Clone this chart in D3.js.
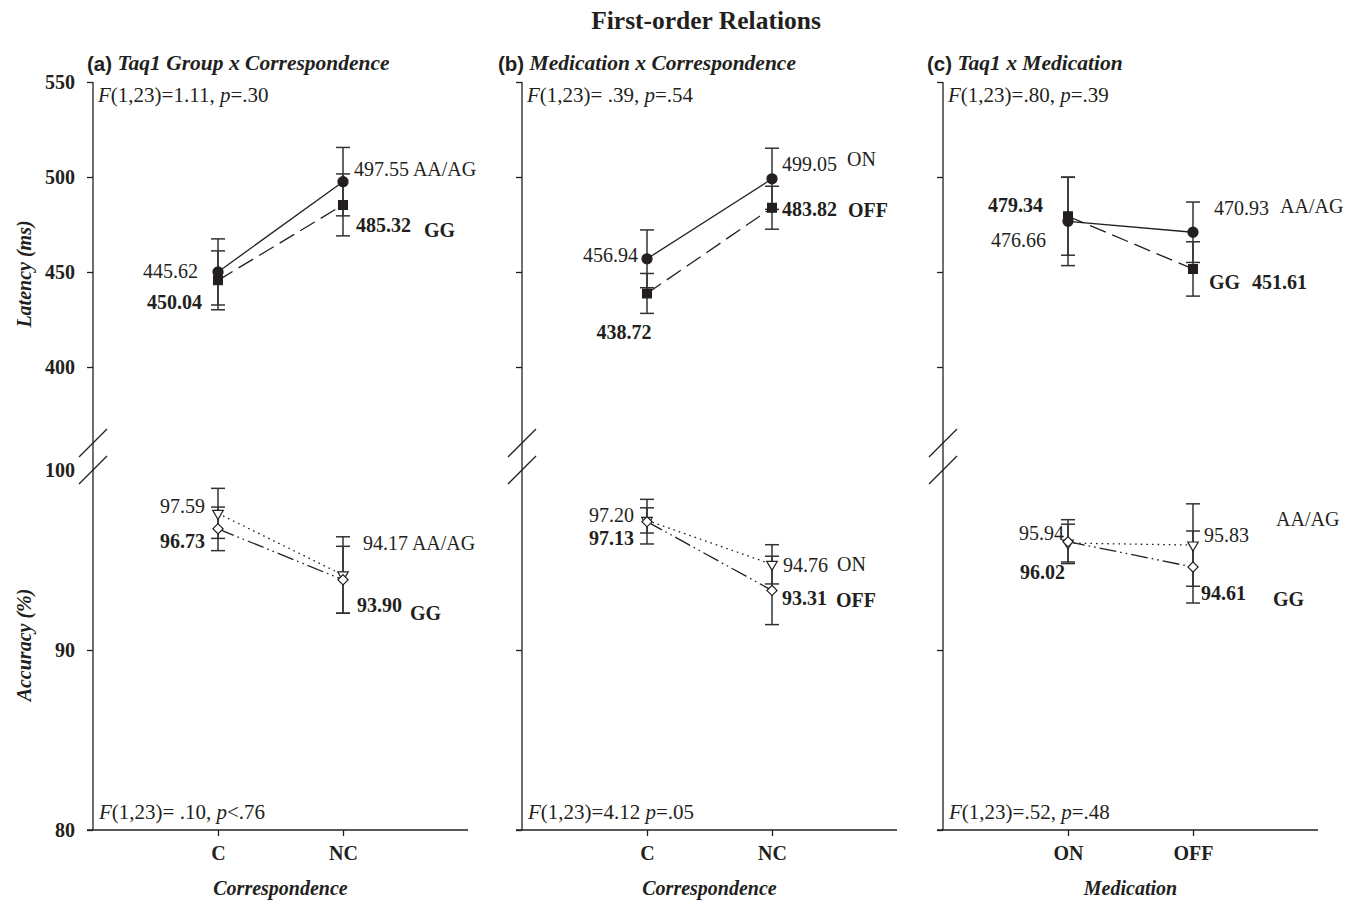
<!DOCTYPE html>
<html>
<head>
<meta charset="utf-8">
<title>First-order Relations</title>
<style>
  body { margin: 0; background: #fff; }
  text { font-family: "Liberation Serif", "Times New Roman", serif; fill: #231f20; }
</style>
</head>
<body>
<script src="https://cdn.jsdelivr.net/npm/d3@7/dist/d3.min.js"></script>
<script>

// ---- data ----
var panelLetters = ["(a)", "(b)", "(c)"];
var panelTitles = ["Taq1 Group x Correspondence", "Medication x Correspondence", "Taq1 x Medication"];
var xCategories = [["C", "NC"], ["C", "NC"], ["ON", "OFF"]];
var xTitles = ["Correspondence", "Correspondence", "Medication"];

// latency (ms): [series 0 = filled circle / solid, series 1 = filled square / dashed]
var latencyMeans = [
  [[450.04, 497.55], [445.62, 485.32]],
  [[456.94, 499.05], [438.72, 483.82]],
  [[476.66, 470.93], [479.34, 451.61]]
];
var latencyErr = [
  [[17.4, 18.0], [15.5, 16.3]],
  [[15.2, 16.1], [10.5, 11.3]],
  [[23.3, 15.9], [20.5, 14.3]]
];
// accuracy (%): [series 0 = open triangle / dotted, series 1 = open diamond / dash-dot-dot]
var accuracyMeans = [
  [[97.59, 94.17], [96.73, 93.90]],
  [[97.20, 94.76], [97.13, 93.31]],
  [[95.94, 95.83], [96.02, 94.61]]
];
var accuracyErr = [
  [[1.39, 2.12], [1.21, 1.86]],
  [[0.70, 1.09], [1.24, 1.90]],
  [[1.05, 2.29], [1.22, 2.00]]
];

var latencyTicks = [400, 450, 500, 550];
var accuracyTicks = [80, 90, 100];

var statsTop = ["F(1,23)=1.11, p=.30", "F(1,23)= .39, p=.54", "F(1,23)=.80, p=.39"];
var statsBottom = ["F(1,23)= .10, p<.76", "F(1,23)=4.12 p=.05", "F(1,23)=.52, p=.48"];

// value labels as printed in the figure: [text, bold]
var valueLabels = [
  [["445.62", 0], ["450.04", 1], ["497.55 AA/AG", 0], ["485.32", 1], ["GG", 1],
   ["97.59", 0], ["96.73", 1], ["94.17 AA/AG", 0], ["93.90", 1], ["GG", 1]],
  [["456.94", 0], ["438.72", 1], ["499.05", 0], ["ON", 0], ["483.82", 1], ["OFF", 1],
   ["97.20", 0], ["97.13", 1], ["94.76", 0], ["ON", 0], ["93.31", 1], ["OFF", 1]],
  [["479.34", 1], ["476.66", 0], ["470.93", 0], ["AA/AG", 0], ["GG", 1], ["451.61", 1],
   ["95.94", 0], ["96.02", 1], ["95.83", 0], ["AA/AG", 0], ["94.61", 1], ["GG", 1]]
];

// where each label hangs: [block ('lat'|'acc'), series, category, dx, dy, anchor]
var labelSpots = [
  [["lat",0,0,-20,-1,"end"], ["lat",1,0,-16,22,"end"], ["lat",0,1,11,-13,"start"],
   ["lat",1,1,13,20,"start"], ["lat",1,1,81,25,"start"],
   ["acc",0,0,-13,-7,"end"], ["acc",1,0,-13,12,"end"], ["acc",0,1,20,-32,"start"],
   ["acc",1,1,14,25,"start"], ["acc",1,1,67,33,"start"]],
  [["lat",0,0,-9,-4,"end"], ["lat",1,0,-23,39,"middle"], ["lat",0,1,10,-15,"start"],
   ["lat",0,1,75,-20,"start"], ["lat",1,1,10,1,"start"], ["lat",1,1,76,2,"start"],
   ["acc",0,0,-13,-5,"end"], ["acc",1,0,-13,16,"end"], ["acc",0,1,11,1,"start"],
   ["acc",0,1,65,0,"start"], ["acc",1,1,10,8,"start"], ["acc",1,1,64,10,"start"]],
  [["lat",1,0,-25,-11,"end"], ["lat",0,0,-22,19,"end"], ["lat",0,1,21,-24,"start"],
   ["lat",0,1,87,-26,"start"], ["lat",1,1,16,13,"start"], ["lat",1,1,59,13,"start"],
   ["acc",0,0,-4,-10,"end"], ["acc",1,0,-3,30,"end"], ["acc",0,1,11,-10,"start"],
   ["acc",0,1,83,-26,"start"], ["acc",1,1,8,26,"start"], ["acc",1,1,80,32,"start"]]
];

// ---- layout ----
var W = 1357, H = 900;
var axisX = [93, 522, 943];
var headingX = [87, 498, 927];
var panelW = 375;
var ink = "#231f20";

var svg = d3.select("body").append("svg")
    .attr("width", W)
    .attr("height", H)
    .style("background", "#fff");

var yLat = d3.scaleLinear().domain([400, 550]).range([367, 82]);
var yAcc = d3.scaleLinear().domain([80, 100]).range([830, 470]);

svg.append("text")
    .attr("x", 706).attr("y", 20)
    .attr("text-anchor", "middle")
    .attr("dominant-baseline", "central")
    .style("font-size", "25.5px").style("font-weight", "bold")
    .text("First-order Relations");

// y titles
[["Latency (ms)", 274], ["Accuracy (%)", 645]].forEach(function(t){
  svg.append("text")
      .attr("transform", "translate(24," + t[1] + ") rotate(-90)")
      .attr("text-anchor", "middle")
      .attr("dominant-baseline", "central")
      .style("font-size", "20px").style("font-weight", "bold").style("font-style", "italic")
      .text(t[0]);
});

function statText(g, str, x, y){
  var t = g.append("text").attr("x", x).attr("y", y)
      .attr("dominant-baseline", "central")
      .style("font-size", "21px");
  str.split(/(F|p)/).forEach(function(s){
    if (!s) return;
    t.append("tspan").style("font-style", (s == "F" || s == "p") ? "italic" : "normal").text(s);
  });
}

var sym = {
  circle: d3.symbol().type(d3.symbolCircle).size(80),
  square: d3.symbol().type(d3.symbolSquare).size(78),
  tri: d3.symbol().type(d3.symbolTriangle).size(48),
  diamond: d3.symbol().type(d3.symbolSquare).size(52)
};

var latStyle = [
  {dash: null, marker: "circle", fill: ink, rot: 0},
  {dash: "17,7", marker: "square", fill: ink, rot: 0}
];
var accStyle = [
  {dash: "1.6,4", marker: "tri", fill: "#fff", rot: 180},
  {dash: "17,4,1.6,4,1.6,4", marker: "diamond", fill: "#fff", rot: 45}
];

panelLetters.forEach(function(letter, p){
  var x0 = axisX[p];
  var g = svg.append("g");
  var x = d3.scalePoint().domain(xCategories[p]).range([x0, x0 + panelW]).padding(1);

  // heading
  var h = g.append("text").attr("x", headingX[p]).attr("y", 63)
      .attr("dominant-baseline", "central");
  h.append("tspan").text(letter)
      .style("font-family", "'Liberation Sans', Arial, sans-serif")
      .style("font-weight", "bold").style("font-size", "20.5px");
  h.append("tspan").text(" " + panelTitles[p])
      .style("font-weight", "bold").style("font-style", "italic").style("font-size", "21.5px");

  // y axis line and break
  g.append("line").attr("x1", x0).attr("x2", x0).attr("y1", yLat(550)).attr("y2", yAcc(80))
      .attr("stroke", ink).attr("stroke-width", 1.3);
  [457, 484].forEach(function(by){
    g.append("line").attr("x1", x0 - 14).attr("y1", by).attr("x2", x0 + 14).attr("y2", by - 28)
        .attr("stroke", ink).attr("stroke-width", 1.3);
  });

  var fmt = p == 0 ? d3.format("d") : function(){ return ""; };
  var latAxis = g.append("g").attr("transform", "translate(" + x0 + ",0)")
      .call(d3.axisLeft(yLat).tickValues(latencyTicks).tickSize(6).tickPadding(12).tickFormat(fmt));
  var accAxis = g.append("g").attr("transform", "translate(" + x0 + ",0)")
      .call(d3.axisLeft(yAcc).tickValues(accuracyTicks).tickSize(6).tickPadding(12).tickFormat(fmt));
  [latAxis, accAxis].forEach(function(a){
    a.select(".domain").remove();
    a.selectAll("line").attr("stroke", ink).attr("stroke-width", 1.3);
    a.selectAll("text").style("font-family", "'Liberation Serif', serif")
        .style("font-size", "20px").style("font-weight", "bold").attr("fill", ink);
  });
  accAxis.selectAll(".tick").filter(function(d){ return d == 100; }).select("line").remove();

  // x axis
  var xa = g.append("g").attr("transform", "translate(0," + yAcc(80) + ")")
      .call(d3.axisBottom(x).tickSize(6).tickPadding(10));
  xa.select(".domain").remove();
  xa.append("line").attr("x1", x0 - 6).attr("x2", x0 + panelW).attr("stroke", ink).attr("stroke-width", 1.3);
  xa.selectAll("line").attr("stroke", ink).attr("stroke-width", 1.3);
  xa.selectAll(".tick text").style("font-family", "'Liberation Serif', serif")
      .style("font-size", "20px").style("font-weight", "bold").attr("fill", ink);

  g.append("text")
      .attr("x", (x(xCategories[p][0]) + x(xCategories[p][1])) / 2).attr("y", 888)
      .attr("text-anchor", "middle").attr("dominant-baseline", "central")
      .style("font-size", "20px").style("font-weight", "bold").style("font-style", "italic")
      .text(xTitles[p]);

  statText(g, statsTop[p], x0 + 5, 95);
  statText(g, statsBottom[p], x0 + 6, 812);

  // series
  var blocks = [
    {key: "lat", y: yLat, means: latencyMeans[p], err: latencyErr[p], style: latStyle},
    {key: "acc", y: yAcc, means: accuracyMeans[p], err: accuracyErr[p], style: accStyle}
  ];
  blocks.forEach(function(b){
    b.means.forEach(function(vals, s){
      var pts = vals.map(function(v, i){
        return {x: x(xCategories[p][i]), v: v, e: b.err[s][i]};
      });
      // error bars
      pts.forEach(function(d){
        var eg = g.append("g").attr("stroke", "#333").attr("stroke-width", 1.5);
        eg.append("line").attr("x1", d.x).attr("x2", d.x)
            .attr("y1", b.y(d.v - d.e)).attr("y2", b.y(d.v + d.e));
        [d.v - d.e, d.v + d.e].forEach(function(c){
          eg.append("line").attr("x1", d.x - 7).attr("x2", d.x + 7)
              .attr("y1", b.y(c)).attr("y2", b.y(c));
        });
      });
    });
    b.means.forEach(function(vals, s){
      var st = b.style[s];
      var pts = vals.map(function(v, i){ return [x(xCategories[p][i]), b.y(v)]; });
      g.append("path").attr("d", d3.line()(pts))
          .attr("fill", "none").attr("stroke", ink).attr("stroke-width", 1.3)
          .attr("stroke-dasharray", st.dash);
    });
    b.means.forEach(function(vals, s){
      var st = b.style[s];
      vals.forEach(function(v, i){
        g.append("path").attr("d", sym[st.marker]())
            .attr("transform", "translate(" + x(xCategories[p][i]) + "," + b.y(v) + ") rotate(" + st.rot + ")")
            .attr("fill", st.fill).attr("stroke", ink).attr("stroke-width", 1.2);
      });
    });
  });

  // value labels
  valueLabels[p].forEach(function(lab, k){
    var sp = labelSpots[p][k];
    var b = sp[0] == "lat" ? blocks[0] : blocks[1];
    var px = x(xCategories[p][sp[2]]);
    var py = b.y(b.means[sp[1]][sp[2]]);
    g.append("text").attr("x", px + sp[3]).attr("y", py + sp[4])
        .attr("text-anchor", sp[5]).attr("dominant-baseline", "central")
        .style("font-size", "20px").style("font-weight", lab[1] ? "bold" : "normal")
        .text(lab[0]);
  });
});

</script>
</body>
</html>
